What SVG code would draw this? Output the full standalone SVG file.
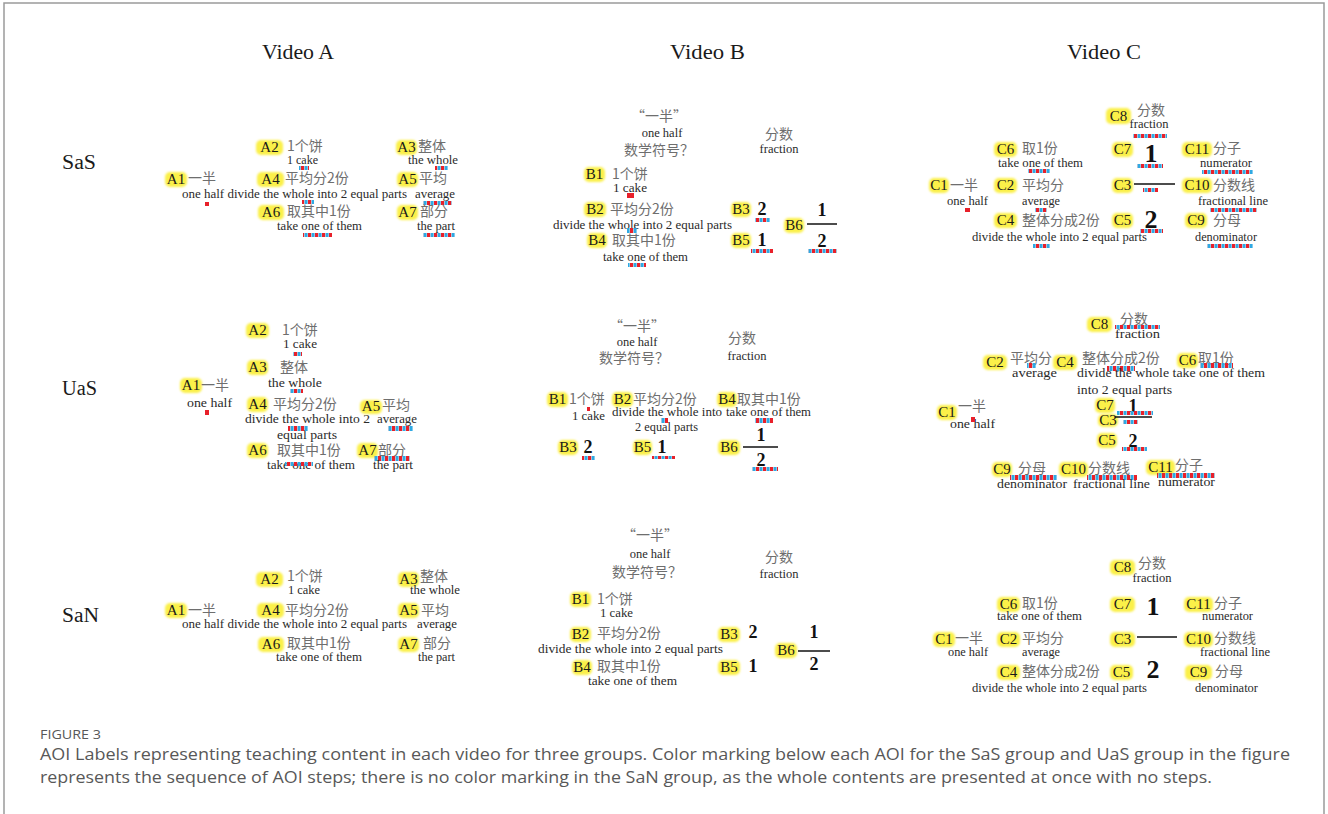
<svg xmlns="http://www.w3.org/2000/svg" width="1328" height="814" viewBox="0 0 1328 814">
<defs>
<pattern id="rb" width="7" height="6" patternUnits="userSpaceOnUse"><rect width="3.2" height="6" fill="#e8202a"/><rect x="3.6" width="3" height="6" fill="#2fa9e3"/></pattern>
<filter id="soft" x="-20%" y="-30%" width="140%" height="160%"><feGaussianBlur stdDeviation="0.8"/></filter>
</defs>
<style>
.hl{fill:#fbf04a;filter:url(#soft)}
.lb{font-family:"Liberation Serif",serif;font-size:15px;fill:#1a1a1a;text-anchor:middle}
.cn{font-family:"Noto Sans CJK SC",sans-serif;font-size:14px;fill:#6e6e6e}
.en{font-family:"Liberation Serif",serif;font-size:12.5px;fill:#2a2a2a}
.c{text-anchor:middle}
.num{font-family:"Liberation Serif",serif;font-weight:bold;font-size:18px;fill:#111;text-anchor:middle}
.big{font-size:26px}
.mk{fill:url(#rb)}
.mr{fill:#e8202a}
.fl{stroke:#111;stroke-width:1.5}
.hd{font-family:"Liberation Serif",serif;font-size:20px;fill:#1a1a1a}
.cap{font-family:"Open Sans","Noto Sans",sans-serif;fill:#585858}
</style>
<rect width="1328" height="814" fill="#fff"/>
<path d="M4,814 V3 H1324 V814" fill="none" stroke="#9a9a9a" stroke-width="1.5"/>

<g id="headers">
<text class="hd" x="262" y="59" textLength="72" lengthAdjust="spacingAndGlyphs">Video A</text>
<text class="hd" x="670" y="59" textLength="75" lengthAdjust="spacingAndGlyphs">Video B</text>
<text class="hd" x="1067" y="59" textLength="74" lengthAdjust="spacingAndGlyphs">Video C</text>
<text class="hd" x="62" y="169" textLength="34" lengthAdjust="spacingAndGlyphs">SaS</text>
<text class="hd" x="62" y="395" textLength="35" lengthAdjust="spacingAndGlyphs">UaS</text>
<text class="hd" x="62" y="622" textLength="37" lengthAdjust="spacingAndGlyphs">SaN</text>
</g>

<!-- Video A SaS -->
<g id="a-sas">
<rect class="hl" x="256" y="140" width="27" height="15" rx="5"/><text class="lb" x="269.5" y="152">A2</text>
<text class="cn" x="287" y="151">1个饼</text>
<text class="en" x="287" y="164" textLength="31" lengthAdjust="spacingAndGlyphs">1 cake</text>
<rect class="mk" x="299" y="166" width="10" height="4"/>
<rect class="hl" x="396" y="140" width="21" height="15" rx="5"/><text class="lb" x="406.5" y="152">A3</text>
<text class="cn" x="418" y="151">整体</text>
<text class="en" x="408" y="164" textLength="50" lengthAdjust="spacingAndGlyphs">the whole</text>
<rect class="mk" x="435" y="166" width="13" height="4"/>
<rect class="hl" x="165" y="172" width="22" height="15" rx="5"/><text class="lb" x="176" y="184">A1</text>
<text class="cn" x="188" y="183">一半</text>
<rect class="hl" x="257" y="172" width="27" height="15" rx="5"/><text class="lb" x="270.5" y="184">A4</text>
<text class="cn" x="285" y="183">平均分2份</text>
<rect class="hl" x="397" y="172" width="21" height="15" rx="5"/><text class="lb" x="407.5" y="184">A5</text>
<text class="cn" x="419" y="183">平均</text>
<text class="en" x="182" y="198" textLength="225" lengthAdjust="spacingAndGlyphs">one half divide the whole into 2 equal parts</text>
<text class="en" x="415" y="198" textLength="40" lengthAdjust="spacingAndGlyphs">average</text>
<rect class="mr" x="205" y="202" width="4" height="4"/>
<rect class="mk" x="302" y="200" width="12" height="4"/>
<rect class="mk" x="423" y="201" width="29" height="4"/>
<rect class="hl" x="258" y="205" width="26" height="15" rx="5"/><text class="lb" x="271" y="217">A6</text>
<text class="cn" x="287" y="216">取其中1份</text>
<rect class="hl" x="397" y="205" width="21" height="15" rx="5"/><text class="lb" x="407.5" y="217">A7</text>
<text class="cn" x="420" y="216">部分</text>
<text class="en" x="277" y="230" textLength="85" lengthAdjust="spacingAndGlyphs">take one of them</text>
<text class="en" x="417" y="230" textLength="38" lengthAdjust="spacingAndGlyphs">the part</text>
<rect class="mk" x="303" y="233" width="29" height="4"/>
<rect class="mk" x="423" y="233" width="32" height="4"/>
</g>

<!-- Video B SaS -->
<g id="b-sas">
<text class="cn c" x="659" y="121" font-size="13">“一半”</text>
<text class="en c" x="662" y="137">one half</text>
<text class="cn c" x="659" y="155">数学符号？</text>
<text class="cn c" x="779" y="139" font-size="13">分数</text>
<text class="en c" x="779" y="153">fraction</text>
<rect class="hl" x="584" y="167" width="21" height="15" rx="5"/><text class="lb" x="594.5" y="179">B1</text>
<text class="cn" x="612" y="179">1个饼</text>
<text class="en" x="613" y="192" textLength="34" lengthAdjust="spacingAndGlyphs">1 cake</text>
<rect class="mr" x="627" y="193" width="7" height="5"/>
<rect class="hl" x="584" y="202" width="22" height="15" rx="5"/><text class="lb" x="595" y="214">B2</text>
<text class="cn" x="610" y="214">平均分2份</text>
<text class="en" x="553" y="229" textLength="179" lengthAdjust="spacingAndGlyphs">divide the whole into 2 equal parts</text>
<rect class="mk" x="627" y="228" width="10" height="5"/>
<rect class="hl" x="587" y="233" width="20" height="15" rx="5"/><text class="lb" x="597" y="245">B4</text>
<text class="cn" x="612" y="245">取其中1份</text>
<text class="en" x="603" y="261" textLength="85" lengthAdjust="spacingAndGlyphs">take one of them</text>
<rect class="mk" x="628" y="263" width="18" height="4"/>
<rect class="hl" x="731" y="202" width="20" height="15" rx="5"/><text class="lb" x="741" y="214">B3</text>
<text class="num" x="762" y="215">2</text>
<rect class="mk" x="755" y="218" width="15" height="4"/>
<rect class="hl" x="731" y="233" width="20" height="15" rx="5"/><text class="lb" x="741" y="245">B5</text>
<text class="num" x="762" y="246">1</text>
<rect class="mk" x="751" y="249" width="22" height="4"/>
<rect class="hl" x="784" y="218" width="20" height="15" rx="5"/><text class="lb" x="794" y="230">B6</text>
<line class="fl" x1="807" y1="224" x2="837" y2="224"/>
<text class="num" x="822" y="216">1</text>
<text class="num" x="822" y="247">2</text>
<rect class="mk" x="808" y="249" width="29" height="4"/>
</g>

<!-- Video C SaS -->
<g id="c-sas">
<rect class="hl" x="1106" y="108" width="25" height="16" rx="5"/><text class="lb" x="1118.5" y="121">C8</text>
<text class="cn" x="1137" y="115" font-size="13">分数</text>
<text class="en c" x="1149" y="128">fraction</text>
<rect class="mk" x="1133" y="134" width="34" height="4"/>
<rect class="hl" x="994" y="142" width="23" height="15" rx="5"/><text class="lb" x="1005.5" y="154">C6</text>
<text class="cn" x="1022" y="153">取1份</text>
<text class="en" x="998" y="167" textLength="85" lengthAdjust="spacingAndGlyphs">take one of them</text>
<rect class="mk" x="1028" y="169" width="22" height="4"/>
<rect class="hl" x="1112" y="142" width="21" height="15" rx="5"/><text class="lb" x="1122.5" y="154">C7</text>
<text class="num big" x="1151" y="162">1</text>
<rect class="mk" x="1137" y="164" width="26" height="4"/>
<rect class="hl" x="1182" y="142" width="30" height="15" rx="5"/><text class="lb" x="1197" y="154">C11</text>
<text class="cn" x="1213" y="153">分子</text>
<text class="en" x="1200" y="167" textLength="52" lengthAdjust="spacingAndGlyphs">numerator</text>
<rect class="mk" x="1202" y="170" width="51" height="4"/>
<rect class="hl" x="929" y="178" width="20" height="15" rx="5"/><text class="lb" x="939" y="190">C1</text>
<text class="cn" x="950" y="190">一半</text>
<text class="en" x="947" y="205" textLength="41" lengthAdjust="spacingAndGlyphs">one half</text>
<rect class="mr" x="965" y="208" width="5" height="4"/>
<rect class="hl" x="994" y="178" width="23" height="15" rx="5"/><text class="lb" x="1005.5" y="190">C2</text>
<text class="cn" x="1022" y="190">平均分</text>
<text class="en" x="1022" y="205" textLength="38" lengthAdjust="spacingAndGlyphs">average</text>
<rect class="mk" x="1035" y="208" width="12" height="4"/>
<rect class="hl" x="1112" y="178" width="21" height="15" rx="5"/><text class="lb" x="1122.5" y="190">C3</text>
<line class="fl" x1="1134" y1="184" x2="1175" y2="184"/>
<rect class="mk" x="1143" y="188" width="15" height="4"/>
<rect class="hl" x="1182" y="178" width="30" height="15" rx="5"/><text class="lb" x="1197" y="190">C10</text>
<text class="cn" x="1213" y="190">分数线</text>
<text class="en" x="1198" y="205" textLength="70" lengthAdjust="spacingAndGlyphs">fractional line</text>
<rect class="mk" x="1210" y="208" width="47" height="4"/>
<rect class="hl" x="994" y="213" width="23" height="15" rx="5"/><text class="lb" x="1005.5" y="225">C4</text>
<text class="cn" x="1022" y="225">整体分成2份</text>
<text class="en" x="972" y="241" textLength="175" lengthAdjust="spacingAndGlyphs">divide the whole into 2 equal parts</text>
<rect class="mk" x="1033" y="244" width="17" height="4"/>
<rect class="hl" x="1112" y="213" width="21" height="15" rx="5"/><text class="lb" x="1122.5" y="225">C5</text>
<text class="num big" x="1151" y="228">2</text>
<rect class="mk" x="1140" y="229" width="23" height="4"/>
<rect class="hl" x="1185" y="213" width="22" height="15" rx="5"/><text class="lb" x="1196" y="225">C9</text>
<text class="cn" x="1213" y="225">分母</text>
<text class="en" x="1195" y="241" textLength="62" lengthAdjust="spacingAndGlyphs">denominator</text>
<rect class="mk" x="1207" y="244" width="46" height="4"/>
</g>

<!-- Video A UaS -->
<g id="a-uas">
<rect class="hl" x="246" y="323" width="23" height="15" rx="5"/><text class="lb" x="257.5" y="335">A2</text>
<text class="cn" x="282" y="335">1个饼</text>
<text class="en" x="283" y="348" textLength="34" lengthAdjust="spacingAndGlyphs">1 cake</text>
<rect class="mk" x="293" y="352" width="9" height="4"/>
<rect class="hl" x="247" y="360" width="21" height="15" rx="5"/><text class="lb" x="257.5" y="372">A3</text>
<text class="cn" x="280" y="372">整体</text>
<text class="en" x="268" y="387" textLength="54" lengthAdjust="spacingAndGlyphs">the whole</text>
<rect class="mk" x="290" y="389" width="13" height="4"/>
<rect class="hl" x="180" y="378" width="22" height="15" rx="5"/><text class="lb" x="191" y="390">A1</text>
<text class="cn" x="201" y="390">一半</text>
<text class="en" x="187" y="407" textLength="45" lengthAdjust="spacingAndGlyphs">one half</text>
<rect class="mr" x="205" y="410" width="4" height="5"/>
<rect class="hl" x="247" y="397" width="21" height="15" rx="5"/><text class="lb" x="257.5" y="409">A4</text>
<text class="cn" x="273" y="409">平均分2份</text>
<text class="en" x="245" y="423" textLength="125" lengthAdjust="spacingAndGlyphs">divide the whole into 2</text>
<text class="en" x="277" y="439" textLength="60" lengthAdjust="spacingAndGlyphs">equal parts</text>
<rect class="mk" x="288" y="426" width="20" height="5"/>
<rect class="hl" x="360" y="400" width="22" height="14" rx="5"/><text class="lb" x="371" y="411">A5</text>
<text class="cn" x="382" y="410">平均</text>
<text class="en" x="377" y="423" textLength="40" lengthAdjust="spacingAndGlyphs">average</text>
<rect class="mk" x="388" y="426" width="25" height="5"/>
<rect class="hl" x="247" y="443" width="21" height="15" rx="5"/><text class="lb" x="257.5" y="455">A6</text>
<text class="cn" x="277" y="455">取其中1份</text>
<text class="en" x="267" y="469" textLength="88" lengthAdjust="spacingAndGlyphs">take one of them</text>
<rect class="mk" x="285" y="462" width="28" height="4"/>
<rect class="hl" x="357" y="443" width="21" height="15" rx="5"/><text class="lb" x="367.5" y="455">A7</text>
<text class="cn" x="378" y="455">部分</text>
<rect class="mk" x="374" y="456" width="36" height="5"/>
<text class="en" x="373" y="469" textLength="40" lengthAdjust="spacingAndGlyphs">the part</text>
</g>

<!-- Video B UaS -->
<g id="b-uas">
<text class="cn c" x="637" y="331" font-size="13">“一半”</text>
<text class="en c" x="637" y="346">one half</text>
<text class="cn c" x="634" y="363">数学符号？</text>
<text class="cn c" x="742" y="343" font-size="13">分数</text>
<text class="en c" x="747" y="360">fraction</text>
<rect class="hl" x="547" y="392" width="21" height="15" rx="5"/><text class="lb" x="557.5" y="404">B1</text>
<text class="cn" x="569" y="404">1个饼</text>
<rect class="mr" x="587" y="407" width="3" height="4"/>
<rect class="hl" x="612" y="392" width="21" height="15" rx="5"/><text class="lb" x="622.5" y="404">B2</text>
<text class="cn" x="633" y="404">平均分2份</text>
<rect class="hl" x="717" y="392" width="20" height="15" rx="5"/><text class="lb" x="727" y="404">B4</text>
<text class="cn" x="737" y="404">取其中1份</text>
<text class="en" x="572" y="420" textLength="33" lengthAdjust="spacingAndGlyphs">1 cake</text>
<text class="en" x="612" y="416" textLength="110" lengthAdjust="spacingAndGlyphs">divide the whole into</text>
<text class="en" x="635" y="431" textLength="63" lengthAdjust="spacingAndGlyphs">2 equal parts</text>
<text class="en" x="726" y="416" textLength="85" lengthAdjust="spacingAndGlyphs">take one of them</text>
<rect class="mk" x="661" y="418" width="7" height="5"/>
<rect class="mk" x="755" y="418" width="18" height="5"/>
<rect class="hl" x="558" y="440" width="20" height="15" rx="5"/><text class="lb" x="568" y="452">B3</text>
<text class="num" x="588" y="453">2</text>
<rect class="mk" x="582" y="456" width="13" height="4"/>
<rect class="hl" x="633" y="440" width="19" height="15" rx="5"/><text class="lb" x="642.5" y="452">B5</text>
<text class="num" x="662" y="453">1</text>
<rect class="mk" x="652" y="456" width="23" height="3"/>
<rect class="hl" x="718" y="440" width="22" height="15" rx="5"/><text class="lb" x="729" y="452">B6</text>
<line class="fl" x1="743" y1="447" x2="778" y2="447"/>
<text class="num" x="761" y="441">1</text>
<text class="num" x="761" y="466">2</text>
<rect class="mk" x="752" y="467" width="26" height="4"/>
</g>

<!-- Video C UaS -->
<g id="c-uas">
<rect class="hl" x="1087" y="317" width="25" height="15" rx="5"/><text class="lb" x="1099.5" y="329">C8</text>
<text class="cn" x="1120" y="324" font-size="13">分数</text>
<rect class="mk" x="1115" y="325" width="45" height="4"/>
<text class="en" x="1115" y="338" textLength="45" lengthAdjust="spacingAndGlyphs">fraction</text>
<rect class="hl" x="983" y="355" width="24" height="15" rx="5"/><text class="lb" x="995" y="367">C2</text>
<text class="cn" x="1010" y="363">平均分</text>
<rect class="mk" x="1027" y="363" width="9" height="5"/>
<text class="en" x="1012" y="377" textLength="45" lengthAdjust="spacingAndGlyphs">average</text>
<rect class="hl" x="1053" y="355" width="24" height="15" rx="5"/><text class="lb" x="1065" y="367">C4</text>
<text class="cn" x="1082" y="363">整体分成2份</text>
<rect class="mk" x="1107" y="366" width="28" height="5"/>
<text class="en" x="1077" y="377" textLength="188" lengthAdjust="spacingAndGlyphs">divide the whole take one of them</text>
<text class="en" x="1077" y="394" textLength="95" lengthAdjust="spacingAndGlyphs">into 2 equal parts</text>
<rect class="hl" x="1177" y="353" width="21" height="15" rx="5"/><text class="lb" x="1187.5" y="365">C6</text>
<text class="cn" x="1198" y="363">取1份</text>
<rect class="mk" x="1200" y="363" width="33" height="5"/>
<rect class="hl" x="937" y="405" width="20" height="15" rx="5"/><text class="lb" x="947" y="417">C1</text>
<text class="cn" x="958" y="411">一半</text>
<text class="en" x="950" y="428" textLength="45" lengthAdjust="spacingAndGlyphs">one half</text>
<rect class="mr" x="971" y="417" width="4" height="5"/>
<rect class="hl" x="1095" y="398" width="20" height="15" rx="5"/><text class="lb" x="1105" y="410">C7</text>
<text class="num" x="1133" y="412" font-size="19">1</text>
<rect class="mk" x="1117" y="411" width="36" height="4"/>
<rect class="hl" x="1098" y="414" width="20" height="13" rx="5"/><text class="lb" x="1108" y="425">C3</text>
<line class="fl" x1="1115" y1="417" x2="1152" y2="417"/>
<rect class="mk" x="1123" y="420" width="15" height="4"/>
<rect class="hl" x="1097" y="433" width="20" height="15" rx="5"/><text class="lb" x="1107" y="445">C5</text>
<text class="num" x="1133" y="447" font-size="19">2</text>
<rect class="mk" x="1122" y="447" width="25" height="4"/>
<rect class="hl" x="992" y="462" width="20" height="15" rx="5"/><text class="lb" x="1002" y="474">C9</text>
<text class="cn" x="1018" y="473">分母</text>
<rect class="mk" x="1010" y="475" width="47" height="5"/>
<text class="en" x="997" y="488" textLength="70" lengthAdjust="spacingAndGlyphs">denominator</text>
<rect class="hl" x="1059" y="462" width="29" height="15" rx="5"/><text class="lb" x="1073.5" y="474">C10</text>
<text class="cn" x="1088" y="473">分数线</text>
<rect class="mk" x="1087" y="475" width="50" height="5"/>
<text class="en" x="1073" y="488" textLength="77" lengthAdjust="spacingAndGlyphs">fractional line</text>
<rect class="hl" x="1146" y="460" width="29" height="15" rx="5"/><text class="lb" x="1160.5" y="472">C11</text>
<text class="cn" x="1175" y="470">分子</text>
<rect class="mk" x="1157" y="473" width="58" height="5"/>
<text class="en" x="1158" y="486" textLength="57" lengthAdjust="spacingAndGlyphs">numerator</text>
</g>

<!-- Video A SaN -->
<g id="a-san">
<rect class="hl" x="256" y="572" width="27" height="15" rx="5"/><text class="lb" x="269.5" y="584">A2</text>
<text class="cn" x="287" y="581">1个饼</text>
<text class="en" x="288" y="594" textLength="32" lengthAdjust="spacingAndGlyphs">1 cake</text>
<rect class="hl" x="398" y="572" width="21" height="15" rx="5"/><text class="lb" x="408.5" y="584">A3</text>
<text class="cn" x="420" y="581">整体</text>
<text class="en" x="410" y="594" textLength="50" lengthAdjust="spacingAndGlyphs">the whole</text>
<rect class="hl" x="165" y="603" width="22" height="15" rx="5"/><text class="lb" x="176" y="615">A1</text>
<text class="cn" x="188" y="615">一半</text>
<rect class="hl" x="257" y="603" width="27" height="15" rx="5"/><text class="lb" x="270.5" y="615">A4</text>
<text class="cn" x="285" y="615">平均分2份</text>
<rect class="hl" x="398" y="603" width="21" height="15" rx="5"/><text class="lb" x="408.5" y="615">A5</text>
<text class="cn" x="421" y="615">平均</text>
<text class="en" x="182" y="628" textLength="225" lengthAdjust="spacingAndGlyphs">one half divide the whole into 2 equal parts</text>
<text class="en" x="417" y="628" textLength="40" lengthAdjust="spacingAndGlyphs">average</text>
<rect class="hl" x="258" y="637" width="26" height="15" rx="5"/><text class="lb" x="271" y="649">A6</text>
<text class="cn" x="287" y="648">取其中1份</text>
<rect class="hl" x="398" y="637" width="21" height="15" rx="5"/><text class="lb" x="408.5" y="649">A7</text>
<text class="cn" x="423" y="648">部分</text>
<text class="en" x="276" y="661" textLength="86" lengthAdjust="spacingAndGlyphs">take one of them</text>
<text class="en" x="418" y="661" textLength="37" lengthAdjust="spacingAndGlyphs">the part</text>
</g>

<!-- Video B SaN -->
<g id="b-san">
<text class="cn c" x="650" y="540" font-size="13">“一半”</text>
<text class="en c" x="650" y="558">one half</text>
<text class="cn c" x="647" y="577">数学符号？</text>
<text class="cn c" x="779" y="562" font-size="13">分数</text>
<text class="en c" x="779" y="578">fraction</text>
<rect class="hl" x="570" y="592" width="21" height="15" rx="5"/><text class="lb" x="580.5" y="604">B1</text>
<text class="cn" x="597" y="604">1个饼</text>
<text class="en" x="600" y="617" textLength="33" lengthAdjust="spacingAndGlyphs">1 cake</text>
<rect class="hl" x="570" y="627" width="21" height="15" rx="5"/><text class="lb" x="580.5" y="639">B2</text>
<text class="cn" x="597" y="638">平均分2份</text>
<text class="en" x="538" y="653" textLength="185" lengthAdjust="spacingAndGlyphs">divide the whole into 2 equal parts</text>
<rect class="hl" x="572" y="660" width="20" height="15" rx="5"/><text class="lb" x="582" y="672">B4</text>
<text class="cn" x="597" y="671">取其中1份</text>
<text class="en" x="588" y="685" textLength="89" lengthAdjust="spacingAndGlyphs">take one of them</text>
<rect class="hl" x="718" y="627" width="22" height="15" rx="5"/><text class="lb" x="729" y="639">B3</text>
<text class="num" x="753" y="638">2</text>
<rect class="hl" x="718" y="660" width="22" height="15" rx="5"/><text class="lb" x="729" y="672">B5</text>
<text class="num" x="753" y="672">1</text>
<rect class="hl" x="775" y="643" width="22" height="15" rx="5"/><text class="lb" x="786" y="655">B6</text>
<line class="fl" x1="798" y1="651" x2="830" y2="651"/>
<text class="num" x="814" y="638">1</text>
<text class="num" x="814" y="670">2</text>
</g>

<!-- Video C SaN -->
<g id="c-san">
<rect class="hl" x="1110" y="560" width="25" height="15" rx="5"/><text class="lb" x="1122.5" y="572">C8</text>
<text class="cn" x="1138" y="568" font-size="13">分数</text>
<text class="en c" x="1152" y="582">fraction</text>
<rect class="hl" x="997" y="597" width="23" height="15" rx="5"/><text class="lb" x="1008.5" y="609">C6</text>
<text class="cn" x="1022" y="608">取1份</text>
<text class="en" x="997" y="620" textLength="85" lengthAdjust="spacingAndGlyphs">take one of them</text>
<rect class="hl" x="1110" y="597" width="25" height="15" rx="5"/><text class="lb" x="1122.5" y="609">C7</text>
<text class="num big" x="1153" y="615">1</text>
<rect class="hl" x="1184" y="597" width="29" height="15" rx="5"/><text class="lb" x="1198.5" y="609">C11</text>
<text class="cn" x="1214" y="608">分子</text>
<text class="en" x="1202" y="620" textLength="51" lengthAdjust="spacingAndGlyphs">numerator</text>
<rect class="hl" x="933" y="632" width="22" height="15" rx="5"/><text class="lb" x="944" y="644">C1</text>
<text class="cn" x="955" y="643">一半</text>
<text class="en" x="948" y="656" textLength="40" lengthAdjust="spacingAndGlyphs">one half</text>
<rect class="hl" x="997" y="632" width="23" height="15" rx="5"/><text class="lb" x="1008.5" y="644">C2</text>
<text class="cn" x="1022" y="643">平均分</text>
<text class="en" x="1022" y="656" textLength="38" lengthAdjust="spacingAndGlyphs">average</text>
<rect class="hl" x="1110" y="632" width="25" height="15" rx="5"/><text class="lb" x="1122.5" y="644">C3</text>
<line class="fl" x1="1137" y1="637" x2="1177" y2="637"/>
<rect class="hl" x="1184" y="632" width="29" height="15" rx="5"/><text class="lb" x="1198.5" y="644">C10</text>
<text class="cn" x="1214" y="643">分数线</text>
<text class="en" x="1200" y="656" textLength="70" lengthAdjust="spacingAndGlyphs">fractional line</text>
<rect class="hl" x="997" y="665" width="23" height="15" rx="5"/><text class="lb" x="1008.5" y="677">C4</text>
<text class="cn" x="1022" y="676">整体分成2份</text>
<text class="en" x="972" y="692" textLength="175" lengthAdjust="spacingAndGlyphs">divide the whole into 2 equal parts</text>
<rect class="hl" x="1110" y="665" width="23" height="15" rx="5"/><text class="lb" x="1121.5" y="677">C5</text>
<text class="num big" x="1153" y="678">2</text>
<rect class="hl" x="1185" y="665" width="27" height="15" rx="5"/><text class="lb" x="1198.5" y="677">C9</text>
<text class="cn" x="1215" y="676">分母</text>
<text class="en" x="1195" y="692" textLength="63" lengthAdjust="spacingAndGlyphs">denominator</text>
</g>

<g id="caption">
<text class="cap" x="40" y="739" font-size="12" textLength="61" lengthAdjust="spacingAndGlyphs">FIGURE 3</text>
<text class="cap" x="40" y="760" font-size="16" textLength="1250" lengthAdjust="spacingAndGlyphs">AOI Labels representing teaching content in each video for three groups. Color marking below each AOI for the SaS group and UaS group in the figure</text>
<text class="cap" x="40" y="783" font-size="16" textLength="1172" lengthAdjust="spacingAndGlyphs">represents the sequence of AOI steps; there is no color marking in the SaN group, as the whole contents are presented at once with no steps.</text>
</g>
</svg>
